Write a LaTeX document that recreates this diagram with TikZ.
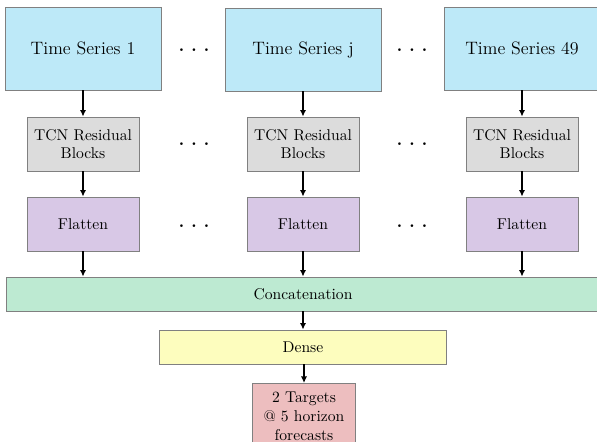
\documentclass[tikz,border=0pt]{standalone}
\usetikzlibrary{arrows.meta}
\definecolor{tsblue}{RGB}{189,233,248}
\definecolor{tcngray}{RGB}{220,220,220}
\definecolor{flatpurple}{RGB}{216,200,230}
\definecolor{concgreen}{RGB}{189,234,210}
\definecolor{denseyellow}{RGB}{253,253,190}
\definecolor{targpink}{RGB}{237,190,191}
\definecolor{boxline}{RGB}{128,128,128}
\tikzset{
  box/.style={draw=boxline, line width=0.5pt, align=center, inner sep=2pt},
  tsbox/.style={box, fill=tsblue, minimum width=99.8pt, minimum height=53.1pt, font=\fontsize{11.5}{14}\selectfont},
  tcnbox/.style={box, fill=tcngray, minimum width=71.7pt, minimum height=34.6pt},
  flatbox/.style={box, fill=flatpurple, minimum width=71.7pt, minimum height=34.6pt},
  dotsnode/.style={inner sep=0pt, font=\large\bfseries},
  arr/.style={-{Latex[length=4.2pt,width=4pt]}, line width=1pt, black},
}
\begin{document}
\begin{tikzpicture}[x=0.64pt, y=-0.64pt]
\useasboundingbox (0,0) rectangle (597,441);
\clip (0,0) rectangle (597,441);
% time series
\node[tsbox] (ts1) at (83,48.5) {Time Series 1};
\node[tsbox] (tsj) at (303,49.5) {Time Series j};
\node[tsbox] (ts49) at (522,48.5) {Time Series 49};
% TCN
\node[tcnbox] (tcn1) at (83,144) {TCN Residual\\Blocks};
\node[tcnbox] (tcnj) at (303,144) {TCN Residual\\Blocks};
\node[tcnbox] (tcn49) at (522,144) {TCN Residual\\Blocks};
% Flatten
\node[flatbox] (fl1) at (83,224) {Flatten};
\node[flatbox] (flj) at (303,224) {Flatten};
\node[flatbox] (fl49) at (522,224) {Flatten};
% dots
\node[dotsnode] (d1) at (194,50) {.\hspace{4.2pt}.\hspace{4.2pt}.};
\node[dotsnode] (d2) at (412,50) {.\hspace{4.2pt}.\hspace{4.2pt}.};
\node[dotsnode] (d3) at (194,144) {.\hspace{4.2pt}.\hspace{4.2pt}.};
\node[dotsnode] (d4) at (412,144) {.\hspace{4.2pt}.\hspace{4.2pt}.};
\node[dotsnode] (d5) at (194,226) {.\hspace{4.2pt}.\hspace{4.2pt}.};
\node[dotsnode] (d6) at (412,226) {.\hspace{4.2pt}.\hspace{4.2pt}.};
% concatenation, dense, targets
\node[box, fill=concgreen, minimum width=380.2pt, minimum height=21.8pt] (conc) at (303,294) {Concatenation};
\node[box, fill=denseyellow, minimum width=183.7pt, minimum height=21.8pt] (dense) at (303,347) {Dense};
\node[box, fill=targpink, minimum width=65.9pt, anchor=north, inner ysep=5.5pt] (targ) at (304,383) {2 Targets\\@ 5 horizon\\forecasts};
% arrows
\draw[arr] (ts1) -- (tcn1);
\draw[arr] (tsj) -- (tcnj);
\draw[arr] (ts49) -- (tcn49);
\draw[arr] (tcn1) -- (fl1);
\draw[arr] (tcnj) -- (flj);
\draw[arr] (tcn49) -- (fl49);
\draw[arr] (fl1.south) -- (fl1.south |- conc.north);
\draw[arr] (flj.south) -- (flj.south |- conc.north);
\draw[arr] (fl49.south) -- (fl49.south |- conc.north);
\draw[arr] (conc.south -| dense.north) -- (dense.north);
\draw[arr] (dense.south -| targ.north) -- (targ.north);
\end{tikzpicture}
\end{document}
